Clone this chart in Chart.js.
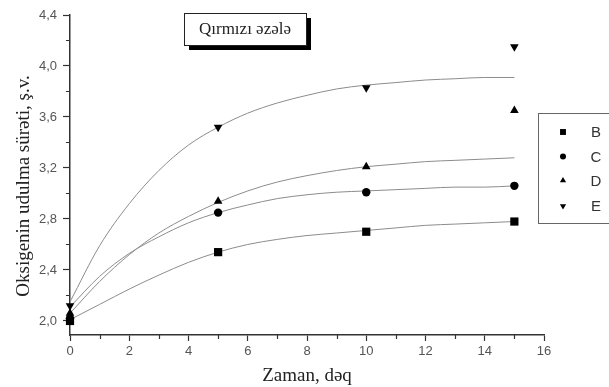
<!DOCTYPE html>
<html>
<head>
<meta charset="utf-8">
<script src="https://cdn.jsdelivr.net/npm/chart.js@4.4.0/dist/chart.umd.min.js"></script>
<style>
  html, body { margin: 0; padding: 0; background: #fff; }
  #wrap { width: 609px; height: 387px; }
</style>
</head>
<body>
<div id="wrap"><canvas id="chart" width="609" height="387"></canvas></div>
<script>
// measured points, time in minutes
const TIMES = [0, 5, 10, 15];
const SERIES_B = [2.00, 2.54, 2.70, 2.78];
const SERIES_C = [2.02, 2.85, 3.01, 3.06];
const SERIES_D = [2.06, 2.94, 3.21, 3.65];
const SERIES_E = [2.12, 3.52, 3.83, 4.15];
const SERIES_NAMES = ['B', 'C', 'D', 'E'];

// fitted curves at every minute
const FIT_X = [0, 1, 2, 3, 4, 5, 6, 7, 8, 9, 10, 11, 12, 13, 14, 15];
const FIT_B = [2.01, 2.13, 2.25, 2.36, 2.46, 2.54, 2.60, 2.64, 2.67, 2.69, 2.71, 2.73, 2.75, 2.76, 2.77, 2.78];
const FIT_C = [2.11, 2.35, 2.53, 2.66, 2.77, 2.85, 2.91, 2.96, 2.99, 3.01, 3.02, 3.03, 3.04, 3.05, 3.05, 3.06];
const FIT_D = [2.06, 2.31, 2.52, 2.69, 2.82, 2.93, 3.02, 3.09, 3.14, 3.18, 3.21, 3.23, 3.25, 3.26, 3.27, 3.28];
const FIT_E = [2.15, 2.59, 2.92, 3.18, 3.38, 3.52, 3.63, 3.71, 3.77, 3.82, 3.85, 3.87, 3.89, 3.90, 3.91, 3.91];

// axis ticks
const X_MAJOR = [0, 2, 4, 6, 8, 10, 12, 14, 16];
const X_MINOR = [1, 3, 5, 7, 9, 11, 13, 15];
const Y_MAJOR = [2.0, 2.4, 2.8, 3.2, 3.6, 4.0, 4.4];
const Y_MINOR = [2.2, 2.6, 3.0, 3.4, 3.8, 4.2];

const TITLE_TEXT = 'Qırmızı əzələ';
const X_TITLE = 'Zaman, dəq';
const Y_TITLE = 'Oksigenin udulma sürəti, ş.v.';

const AXIS_COLOR = '#333';
const FIT_COLOR = '#8c8c8c';
const SERIF = '"Liberation Serif", "Times New Roman", serif';
const SANS = '"Liberation Sans", Arial, sans-serif';

const markerStyles = [
  { pointStyle: 'rect', radius: 5.8, rotation: 0 },
  { pointStyle: 'circle', radius: 4.2, rotation: 0 },
  { pointStyle: 'triangle', radius: 5, rotation: 0 },
  { pointStyle: 'triangle', radius: 5, rotation: 180 }
];

const pointSets = [SERIES_B, SERIES_C, SERIES_D, SERIES_E];
const fitSets = [FIT_B, FIT_C, FIT_D, FIT_E];

const toXY = (xs, ys) => xs.map((x, i) => ({ x, y: ys[i] }));

const datasets = [];
pointSets.forEach((vals, i) => {
  const m = markerStyles[i];
  datasets.push({
    label: SERIES_NAMES[i],
    data: toXY(TIMES, vals),
    showLine: false,
    pointStyle: m.pointStyle,
    pointRadius: m.radius,
    pointRotation: m.rotation,
    pointBackgroundColor: '#000',
    pointBorderColor: '#000',
    pointBorderWidth: 0,
    clip: false,
    order: 0
  });
});
fitSets.forEach((vals, i) => {
  datasets.push({
    label: SERIES_NAMES[i] + ' fit',
    data: toXY(FIT_X, vals),
    showLine: true,
    borderColor: FIT_COLOR,
    borderWidth: 1,
    pointRadius: 0,
    cubicInterpolationMode: 'monotone',
    fill: false,
    order: 1
  });
});

const fmt = v => v.toFixed(1).replace('.', ',');

// short minor ticks on both axes
const minorTicks = {
  id: 'minorTicks',
  afterDraw(chart) {
    const { ctx, chartArea: a } = chart;
    const xs = chart.scales.x, ys = chart.scales.y;
    ctx.save();
    ctx.strokeStyle = AXIS_COLOR;
    ctx.lineWidth = 1.2;
    ctx.beginPath();
    Y_MINOR.forEach(v => {
      const py = Math.round(ys.getPixelForValue(v)) + 0.5;
      ctx.moveTo(a.left - 4, py);
      ctx.lineTo(a.left, py);
    });
    X_MINOR.forEach(v => {
      const px = Math.round(xs.getPixelForValue(v)) + 0.5;
      ctx.moveTo(px, a.bottom);
      ctx.lineTo(px, a.bottom + 4);
    });
    ctx.stroke();
    ctx.restore();
  }
};

// boxed title with drop shadow, legend box and rotated y title
const decorations = {
  id: 'decorations',
  afterDraw(chart) {
    const ctx = chart.ctx;
    ctx.save();

    // title box
    const bx = 184, by = 13, bw = 122, bh = 32;
    ctx.fillStyle = '#000';
    ctx.fillRect(bx + 5, by + 5, bw, bh);
    ctx.fillStyle = '#fff';
    ctx.fillRect(bx, by, bw, bh);
    ctx.strokeStyle = '#222';
    ctx.lineWidth = 1;
    ctx.strokeRect(bx + 0.5, by + 0.5, bw, bh);
    ctx.fillStyle = '#222';
    ctx.font = '17px ' + SERIF;
    ctx.textAlign = 'center';
    ctx.textBaseline = 'middle';
    ctx.fillText(TITLE_TEXT, bx + bw / 2, by + bh / 2 + 1);

    // legend
    const lx = 538, ly = 113, lw = 80, lh = 110;
    ctx.strokeStyle = '#666';
    ctx.lineWidth = 1;
    ctx.strokeRect(lx + 0.5, ly + 0.5, lw, lh);
    const rows = [132, 156.5, 180.5, 206];
    ctx.font = '15px ' + SANS;
    ctx.textAlign = 'center';
    rows.forEach((ry, i) => {
      const m = markerStyles[i];
      ctx.fillStyle = '#000';
      ctx.strokeStyle = '#000';
      Chart.helpers.drawPoint(ctx, {
        pointStyle: m.pointStyle,
        radius: m.radius * 0.72,
        rotation: m.rotation,
        borderWidth: 0
      }, 563, ry);
      ctx.fillStyle = '#333';
      ctx.fillText(chart.data.datasets[i].label, 596, ry + 1);
    });

    // y axis title
    ctx.translate(24, 186);
    ctx.rotate(-Math.PI / 2);
    ctx.fillStyle = '#222';
    ctx.font = '19px ' + SERIF;
    ctx.textAlign = 'center';
    ctx.textBaseline = 'middle';
    ctx.fillText(Y_TITLE, 0, 0);

    ctx.restore();
  }
};

new Chart(document.getElementById('chart').getContext('2d'), {
  type: 'scatter',
  data: { datasets },
  options: {
    responsive: false,
    animation: false,
    devicePixelRatio: 1,
    layout: { padding: { top: 15, right: 65, bottom: 0, left: 0 } },
    plugins: {
      legend: { display: false },
      tooltip: { enabled: false }
    },
    scales: {
      x: {
        type: 'linear',
        min: 0,
        max: 16,
        afterBuildTicks: s => { s.ticks = X_MAJOR.map(v => ({ value: v })); },
        afterFit: s => { s.height = 52; },
        border: { display: true, color: AXIS_COLOR, width: 1.5 },
        grid: { display: true, drawOnChartArea: false, drawTicks: true, tickLength: 6, tickColor: AXIS_COLOR, tickWidth: 1.2 },
        ticks: { color: '#555', font: { family: SANS, size: 13 }, padding: 3, maxRotation: 0, callback: v => String(v) },
        title: { display: true, text: X_TITLE, color: '#222', font: { family: SERIF, size: 19 }, padding: { top: 0, bottom: 0 } }
      },
      y: {
        type: 'linear',
        min: 1.89,
        max: 4.4,
        afterBuildTicks: s => { s.ticks = Y_MAJOR.map(v => ({ value: v })); },
        afterFit: s => { s.width = 70; },
        border: { display: true, color: AXIS_COLOR, width: 1.5 },
        grid: { display: true, drawOnChartArea: false, drawTicks: true, tickLength: 7, tickColor: AXIS_COLOR, tickWidth: 1.2 },
        ticks: { color: '#555', font: { family: SANS, size: 13 }, padding: 6, callback: v => fmt(v) }
      }
    }
  },
  plugins: [minorTicks, decorations]
});
</script>
</body>
</html>
